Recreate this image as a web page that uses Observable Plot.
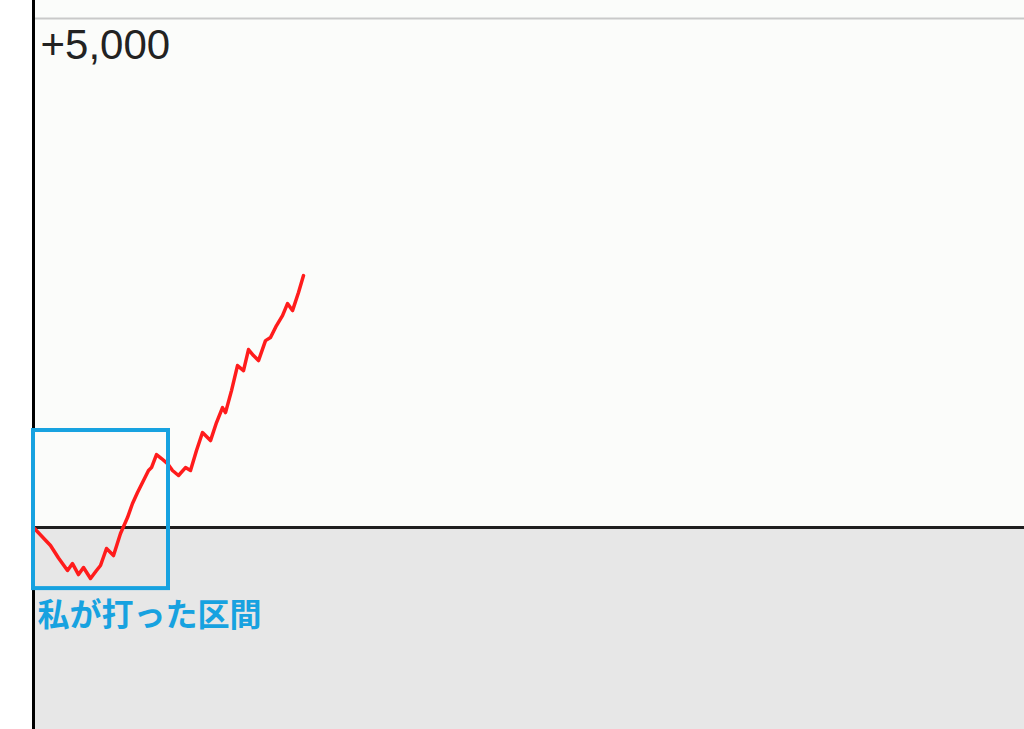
<!DOCTYPE html>
<html>
<head>
<meta charset="utf-8">
<script src="https://cdn.jsdelivr.net/npm/d3@7"></script>
<script src="https://cdn.jsdelivr.net/npm/@observablehq/plot@0.6"></script>
<style>
  html, body { margin: 0; padding: 0; background: #ffffff; }
  #chart svg { display: block; }
</style>
</head>
<body>
<div id="chart"></div>
<script>
// Games played (x) and coin difference (y)
const games = [0, 170, 250, 340, 390, 450, 500, 570, 630, 670, 730, 800, 870, 940, 990, 1040, 1100, 1150, 1180, 1230, 1280, 1340, 1390, 1450, 1520, 1570, 1630, 1690, 1770, 1830, 1890, 1920, 1980, 2040, 2100, 2150, 2200, 2250, 2320, 2370, 2430, 2490, 2540, 2590, 2650, 2700];
const diffs = [0, -177, -300, -422, -354, -462, -393, -501, -422, -373, -206, -275, -59, 98, 236, 344, 462, 560, 589, 717, 678, 628, 560, 511, 589, 560, 756, 933, 854, 1031, 1178, 1129, 1345, 1591, 1542, 1748, 1689, 1640, 1836, 1866, 1984, 2082, 2200, 2131, 2308, 2475];
const gridValues = [5000];
const gridLabels = ["+5,000"];
const playedRange = { start: 0, end: 1350, low: -600, high: 953 };
const playedLabel = "私が打った区間";

const xDomain = [0, 9910];
const yDomain = [-1984, 5177];

const series = games.map((g, i) => ({ game: g, diff: diffs[i] }));

const chart = Plot.plot({
  width: 1024,
  height: 729,
  marginLeft: 33,
  marginRight: 0,
  marginTop: 0,
  marginBottom: 0,
  style: { background: "#ffffff", overflow: "visible" },
  x: { domain: xDomain, axis: null },
  y: { domain: yDomain, axis: null },
  marks: [
    Plot.rect([{ a: xDomain[0], b: xDomain[1], c: 0, d: yDomain[1] }], { x1: "a", x2: "b", y1: "c", y2: "d", fill: "#fbfcfa" }),
    Plot.rect([{ a: xDomain[0], b: xDomain[1], c: yDomain[0], d: 0 }], { x1: "a", x2: "b", y1: "c", y2: "d", fill: "#e7e7e7" }),
    Plot.ruleY(gridValues, { stroke: "#c9c9c9", strokeWidth: 2 }),
    Plot.ruleY([0], { stroke: "#1e1e1e", strokeWidth: 3 }),
    Plot.ruleX([0], { stroke: "#000000", strokeWidth: 3 }),
    Plot.text(gridLabels, { x: xDomain[0], y: gridValues[0], text: d => d, textAnchor: "start", lineAnchor: "top", dx: 7, dy: 11, fontSize: 42, fontFamily: "Liberation Sans", fill: "#222222" }),
    Plot.line(series, { x: "game", y: "diff", stroke: "#ff1c1c", strokeWidth: 3.5, strokeLinejoin: "round", strokeLinecap: "round" }),
    Plot.rect([playedRange], { x1: "start", x2: "end", y1: "low", y2: "high", fill: "none", stroke: "#17a2e0", strokeWidth: 4 }),
    Plot.text([playedLabel], { x: playedRange.start, y: playedRange.low, text: d => d, textAnchor: "start", lineAnchor: "top", dx: 4, dy: 15, fontSize: 32, fontWeight: "bold", fontFamily: "Noto Sans CJK JP", fill: "#17a2e0" })
  ]
});

document.getElementById("chart").appendChild(chart);
</script>
</body>
</html>
